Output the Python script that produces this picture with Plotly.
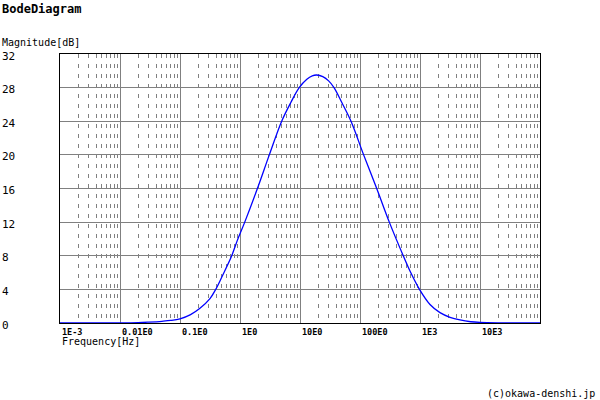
import math
import plotly.graph_objects as go

# Data
freq_hz = [0.001, 0.01, 0.02, 0.03, 0.05, 0.07, 0.1, 0.15, 0.215, 0.316, 0.394, 0.5, 0.728,
           0.9, 1.2, 1.95, 3.08, 4.95, 7.0, 9.7, 13.0, 16.0, 19.0, 24.0, 30.0, 36.9, 50.0,
           70.8, 115.0, 190.0, 308.0, 526.0, 700.0, 980.0, 1468.0, 2154.0, 3162.0, 4642.0,
           7000.0, 10000.0, 20000.0, 100000.0]
magnitude_db = [0.0, 0.01, 0.04, 0.1, 0.2, 0.3, 0.5, 1.0, 1.75, 2.9, 4.0, 5.5, 8.0,
                9.8, 12.0, 16.0, 20.0, 24.0, 26.2, 28.0, 29.0, 29.4, 29.5, 29.3, 28.8, 28.0, 26.2,
                24.0, 20.0, 16.0, 12.0, 8.0, 6.0, 4.0, 2.2, 1.23, 0.68, 0.36,
                0.15, 0.07, 0.02, 0.0]

x_tick_vals = [1e-3, 1e-2, 1e-1, 1, 10, 100, 1e3, 1e4]
x_tick_text = ["1E-3", "0.01E0", "0.1E0", "1E0", "10E0", "100E0", "1E3", "10E3"]
y_tick_vals = [0, 4, 8, 12, 16, 20, 24, 28, 32]

MONO = "DejaVu Sans Mono"

fig = go.Figure()
fig.add_trace(go.Scatter(x=freq_hz, y=magnitude_db, mode="lines",
                         line=dict(color="#0000ff", width=1.3, shape="spline", smoothing=1.0),
                         hoverinfo="skip"))

annotations = []
for v, t in zip(x_tick_vals, x_tick_text):
    annotations.append(dict(x=math.log10(v), xref="x", y=0, yref="paper", text="<b>" + t + "</b>",
                            xanchor="left", yanchor="top", showarrow=False, xshift=0, yshift=-2,
                            font=dict(family=MONO, size=8.5, color="black")))
for v in y_tick_vals:
    annotations.append(dict(x=-0.125, xref="paper", y=v, yref="y", text=str(v),
                            xanchor="left", yanchor="middle", showarrow=False, yshift=-2,
                            font=dict(family=MONO, size=11, color="black")))
annotations += [
    dict(x=-0.125, xref="paper", y=(323 - 9) / 269, yref="paper", text="<b>BodeDiagram</b>",
         xanchor="left", yanchor="middle", showarrow=False,
         font=dict(family=MONO, size=12, color="black")),
    dict(x=-0.125, xref="paper", y=(323 - 42) / 269, yref="paper", text="Magnitude[dB]",
         xanchor="left", yanchor="middle", showarrow=False,
         font=dict(family=MONO, size=10, color="black")),
    dict(x=0, xref="paper", y=(323 - 341) / 269, yref="paper", text="Frequency[Hz]",
         xanchor="left", yanchor="middle", showarrow=False,
         font=dict(family=MONO, size=10, color="black")),
    dict(x=(597 - 60) / 480, xref="paper", y=(323 - 393) / 269, yref="paper",
         text="(c)okawa-denshi.jp", xanchor="right", yanchor="middle", showarrow=False,
         font=dict(family=MONO, size=10, color="black")),
]

fig.update_layout(
    width=600, height=400,
    margin=dict(l=60, r=60, t=54, b=77),
    paper_bgcolor="white", plot_bgcolor="white",
    showlegend=False,
    annotations=annotations,
    xaxis=dict(type="log", range=[-3, 5], tickvals=x_tick_vals, showticklabels=False,
               ticks="", showgrid=True, gridcolor="#808080", gridwidth=1,
               showline=True, mirror=True, linecolor="black", linewidth=1, zeroline=False,
               minor=dict(dtick="D1", showgrid=True, gridcolor="#808080", gridwidth=1,
                          griddash="4px,6px", ticks="")),
    yaxis=dict(range=[0, 32], tickvals=y_tick_vals, showticklabels=False, ticks="",
               showgrid=True, gridcolor="#808080", gridwidth=1,
               showline=True, mirror=True, linecolor="black", linewidth=1, zeroline=False),
)

fig.write_html("out.html", config={"displayModeBar": False},
               post_script="document.body.style.margin='0';document.body.style.overflow='hidden';")
